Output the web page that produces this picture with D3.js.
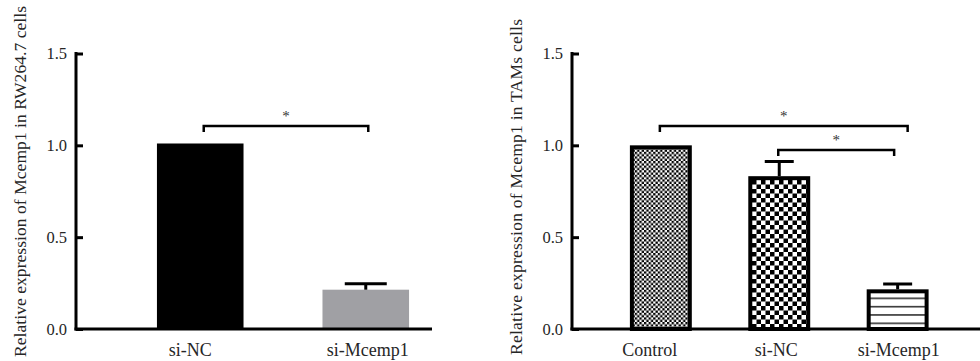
<!DOCTYPE html>
<html>
<head>
<meta charset="utf-8">
<script src="https://cdn.jsdelivr.net/npm/d3@7/dist/d3.min.js"></script>
<style>
  html, body { margin: 0; padding: 0; background: #fff; }
  svg { display: block; }
</style>
</head>
<body>
<svg id="chart" width="980" height="361"></svg>
<script>
// RAW264.7 panel
const leftCategories = ["si-NC", "si-Mcemp1"];
const leftMeans = [1.01, 0.214];
const leftErrors = [0, 0.033];
const leftColors = ["#000000", "#a0a0a4"];
const leftTitle = "Relative expression of Mcemp1 in RW264.7 cells";
const leftBrackets = [{ from: "si-NC", to: "si-Mcemp1", level: 1.105, mark: "*" }];

// TAMs panel
const rightCategories = ["Control", "si-NC", "si-Mcemp1"];
const rightMeans = [1.0, 0.832, 0.216];
const rightErrors = [0, 0.08, 0.029];
const rightFills = ["url(#fineChecker)", "url(#coarseChecker)", "url(#hStripes)"];
const rightTitle = "Relative expression of Mcemp1 in TAMs cells";
const rightBrackets = [
  { from: "Control", to: "si-Mcemp1", level: 1.105, mark: "*" },
  { from: "si-NC", to: "si-Mcemp1", level: 0.975, mark: "*" }
];

const yTicks = [0, 0.5, 1.0, 1.5];

const FONT = "'Liberation Serif', 'Times New Roman', serif";
const TEXT = "#262626";
const svg = d3.select("#chart").attr("font-family", FONT);
const y = d3.scaleLinear().domain([0, 1.5]).range([329, 53.5]);

// fill patterns for the TAMs bars
const defs = svg.append("defs");
const fine = defs.append("pattern").attr("id", "fineChecker")
  .attr("patternUnits", "userSpaceOnUse").attr("width", 4.6).attr("height", 4.6);
fine.append("rect").attr("width", 4.6).attr("height", 4.6).attr("fill", "#fff");
fine.append("rect").attr("width", 2.3).attr("height", 2.3).attr("fill", "#000");
fine.append("rect").attr("x", 2.3).attr("y", 2.3).attr("width", 2.3).attr("height", 2.3).attr("fill", "#000");

const coarse = defs.append("pattern").attr("id", "coarseChecker")
  .attr("patternUnits", "userSpaceOnUse").attr("width", 9).attr("height", 9)
  .attr("x", 752).attr("y", 180);
coarse.append("rect").attr("width", 9).attr("height", 9).attr("fill", "#fff");
coarse.append("rect").attr("width", 4.5).attr("height", 4.5).attr("fill", "#000");
coarse.append("rect").attr("x", 4.5).attr("y", 4.5).attr("width", 4.5).attr("height", 4.5).attr("fill", "#000");

const stripes = defs.append("pattern").attr("id", "hStripes")
  .attr("patternUnits", "userSpaceOnUse").attr("width", 10).attr("height", 8.33)
  .attr("x", 0).attr("y", 329 - 5.7 - 8.33 * 4 - 0.8);
stripes.append("rect").attr("width", 10).attr("height", 8.33).attr("fill", "#fff");
stripes.append("rect").attr("y", 0).attr("width", 10).attr("height", 1.6).attr("fill", "#333");

function drawPanel(opts) {
  const g = svg.append("g");
  const x = d3.scaleBand().domain(opts.categories)
    .range(opts.xRange).paddingInner(0.477).paddingOuter(0.489);
  const x0 = opts.xRange[0];
  const mid = c => x(c) + x.bandwidth() / 2;

  // bars
  opts.categories.forEach((c, i) => {
    const v = opts.means[i];
    if (opts.outlined) {
      const sw = 4;
      g.append("rect")
        .attr("x", x(c) + sw / 2).attr("y", y(v) + sw / 2)
        .attr("width", x.bandwidth() - sw).attr("height", y(0) - y(v) - sw / 2)
        .attr("fill", opts.fills[i]).attr("stroke", "#000").attr("stroke-width", sw);
    } else {
      g.append("rect")
        .attr("x", x(c)).attr("y", y(v))
        .attr("width", x.bandwidth()).attr("height", y(0) - y(v))
        .attr("fill", opts.fills[i]);
    }
  });

  // error bars (upper half)
  opts.categories.forEach((c, i) => {
    const e = opts.errors[i];
    if (!e) return;
    const cx = mid(c);
    const v = opts.means[i];
    const half = opts.capHalf;
    g.append("line").attr("x1", cx).attr("x2", cx)
      .attr("y1", y(v)).attr("y2", y(v + e))
      .attr("stroke", "#000").attr("stroke-width", 3);
    g.append("line").attr("x1", cx - half).attr("x2", cx + half)
      .attr("y1", y(v + e)).attr("y2", y(v + e))
      .attr("stroke", "#000").attr("stroke-width", 3);
  });

  // y axis with inward ticks
  const yAxis = d3.axisLeft(y).tickValues(yTicks).tickFormat(d3.format(".1f"))
    .tickSize(-7).tickSizeOuter(0).tickPadding(9);
  const ya = g.append("g").attr("transform", `translate(${x0},0)`).call(yAxis)
    .attr("font-family", FONT);
  ya.select(".domain").attr("stroke", "#000").attr("stroke-width", 3)
    .attr("d", `M0,${y(0) + 1.5}V${y(1.5) - 1.5}`);
  ya.selectAll(".tick line").attr("stroke", "#000").attr("stroke-width", 3);
  ya.selectAll(".tick text").attr("font-size", 16.5).attr("fill", TEXT);

  // x baseline
  g.append("line").attr("x1", x0 - 1.5).attr("x2", opts.baseEnd)
    .attr("y1", y(0)).attr("y2", y(0))
    .attr("stroke", "#000").attr("stroke-width", 3);

  // category labels
  const xa = g.append("g").attr("transform", `translate(0,${y(0)})`)
    .call(d3.axisBottom(x).tickSize(0).tickPadding(14))
    .attr("font-family", FONT);
  xa.select(".domain").remove();
  xa.selectAll(".tick text").attr("font-size", 18).attr("fill", TEXT)
    .attr("dx", (d, i) => opts.labelShift[i]);

  // significance brackets
  opts.brackets.forEach((b, i) => {
    const [n1, n2] = opts.bracketNudge[i];
    const xa1 = mid(b.from) + n1;
    const xa2 = mid(b.to) + n2;
    const yy = y(b.level);
    g.append("path")
      .attr("d", `M${xa1},${yy + 6}V${yy}H${xa2}V${yy + 6}`)
      .attr("fill", "none").attr("stroke", "#000").attr("stroke-width", 2.5);
    g.append("text").attr("x", (xa1 + xa2) / 2).attr("y", yy - 5)
      .attr("text-anchor", "middle").attr("font-size", 15).attr("fill", "#333")
      .text(b.mark);
  });

  // y title
  g.append("text")
    .attr("transform", `translate(${opts.titlePos[0]},${opts.titlePos[1]}) rotate(-90)`)
    .attr("text-anchor", "middle").attr("dominant-baseline", "central")
    .attr("font-size", 17.5).attr("fill", TEXT)
    .attr("textLength", opts.titleLength).attr("lengthAdjust", "spacing")
    .text(opts.title);
}

drawPanel({
  categories: leftCategories, means: leftMeans, errors: leftErrors,
  fills: leftColors, outlined: false, xRange: [76, 490], baseEnd: 432,
  capHalf: 21, brackets: leftBrackets, bracketNudge: [[3.5, 2.5]],
  labelShift: [-10, 2],
  title: leftTitle, titlePos: [20, 181.5], titleLength: 351
});

drawPanel({
  categories: rightCategories, means: rightMeans, errors: rightErrors,
  fills: rightFills, outlined: true, xRange: [572, 986.5], baseEnd: 980,
  capHalf: 14.5, brackets: rightBrackets, bracketNudge: [[-1, 10], [-1, -3.5]],
  labelShift: [-11, -3, 1],
  title: rightTitle, titlePos: [516, 187], titleLength: 336
});
</script>
</body>
</html>
